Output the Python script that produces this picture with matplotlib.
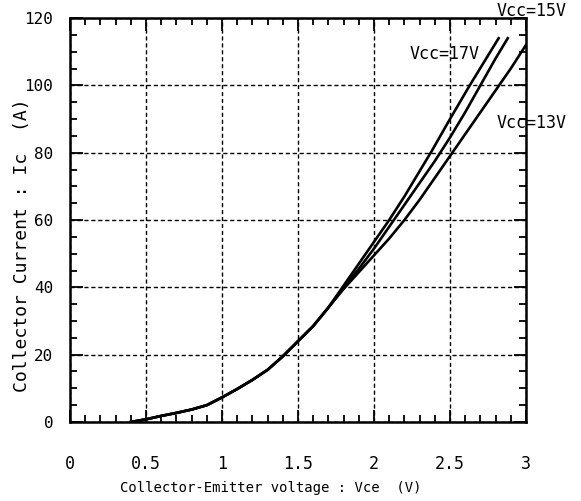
import numpy as np
import matplotlib
matplotlib.use("Agg")
import matplotlib.pyplot as plt
from matplotlib.ticker import MultipleLocator

# shared low-current part of the curves (Vce [V], Ic [A])
v_low = [0.4, 0.5, 0.6, 0.7, 0.8, 0.9, 1.0, 1.1, 1.2, 1.3, 1.4, 1.5, 1.6, 1.7]
i_low = [0, 0.8, 1.8, 2.7, 3.7, 5, 7.3, 9.8, 12.5, 15.5, 19.5, 24, 28.5, 34]

v_17 = [1.8, 1.9, 2.0, 2.1, 2.2, 2.3, 2.38, 2.5, 2.63, 2.82]
i_17 = [40.5, 47, 53.5, 60, 67, 74.5, 80.5, 90, 100, 114]
v_15 = [1.8, 1.9, 2.0, 2.1, 2.2, 2.3, 2.4, 2.5, 2.6, 2.7, 2.8, 2.88]
i_15 = [40, 45.5, 51.5, 58, 64.5, 71, 77.5, 84.5, 92, 100, 108, 114]
v_13 = [1.8, 1.9, 2.0, 2.1, 2.2, 2.3, 2.4, 2.5, 2.6, 2.7, 2.8, 2.9, 3.0]
i_13 = [39.5, 44.5, 49.5, 54.5, 60, 66, 72.5, 79, 85.5, 92, 98.5, 105, 112]

labels = ["Vcc=17V", "Vcc=15V", "Vcc=13V"]
label_pos = [(2.237, 109.3), (2.809, 122), (2.809, 88.8)]

fnt = "DejaVu Sans Mono"

fig = plt.figure(figsize=(5.81, 5.01), dpi=100)
ax = fig.add_axes([0.1205, 0.1577, 0.7848, 0.8063])

for v, i in [(v_17, i_17), (v_15, i_15), (v_13, i_13)]:
    ax.plot(v_low + v, i_low + i, color="black", lw=1.9, solid_joinstyle="round")

for txt, (x, y) in zip(labels, label_pos):
    ax.text(x, y, txt, fontsize=12, family=fnt, ha="left", va="center", clip_on=False)

ax.set_xlim(0, 3)
ax.set_ylim(0, 120)
ax.xaxis.set_minor_locator(MultipleLocator(0.1))
ax.yaxis.set_minor_locator(MultipleLocator(5))
ax.set_xticks([0, 0.5, 1, 1.5, 2, 2.5, 3])
ax.set_xticklabels(["0", "0.5", "1", "1.5", "2", "2.5", "3"], family=fnt, fontsize=12)
ax.set_yticks([0, 20, 40, 60, 80, 100, 120])
ax.set_yticklabels(["0", "20", "40", "60", "80", "100", "120"], family=fnt, fontsize=11.5)

ax.tick_params(which="both", direction="in", top=True, right=True, color="black")
ax.tick_params(axis="x", which="major", length=9, width=1.3, pad=24)
ax.tick_params(axis="y", which="major", length=9, width=1.3, pad=12)
ax.tick_params(which="minor", length=5, width=1.3)

for s in ax.spines.values():
    s.set_linewidth(1.8)

ax.grid(which="major", color="black", linestyle=(0, (3, 2)), linewidth=1.0)

ax.set_xlabel("Collector-Emitter voltage : Vce  (V)", family=fnt, fontsize=10)
ax.xaxis.set_label_coords(0.44, -0.145)
ax.set_ylabel("Collector Current : Ic  (A)", family=fnt, fontsize=13)
ax.yaxis.set_label_coords(-0.085, 0.438)

fig.savefig("out.png", dpi=100)
